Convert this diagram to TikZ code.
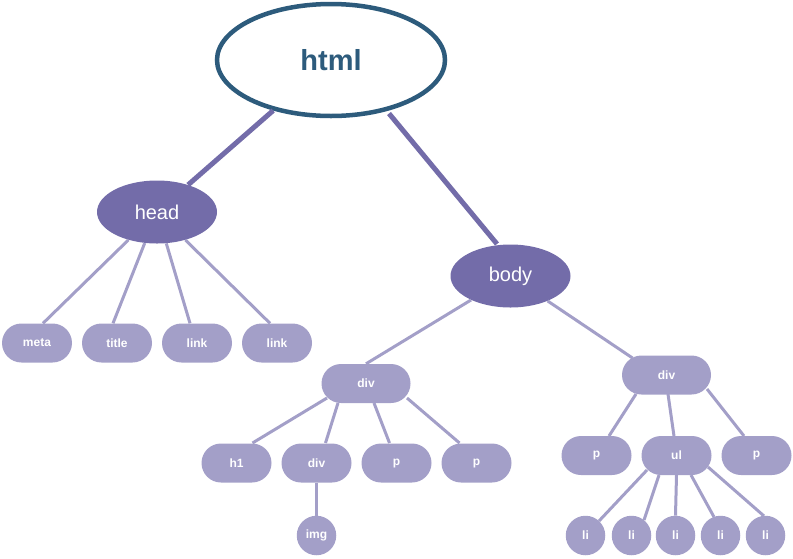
\documentclass[tikz,border=0pt]{standalone}
\usepackage{fontspec}
\setmainfont{Liberation Sans}
\usetikzlibrary{shapes.geometric,shapes.misc}
\definecolor{htmlblue}{HTML}{2D5B7C}
\definecolor{darkpurp}{HTML}{736CA9}
\definecolor{lightpurp}{HTML}{A39FC8}
\tikzset{
  rootnode/.style={ellipse,draw=htmlblue,line width=4.5pt,fill=white,inner sep=0pt,
    minimum width=228pt,minimum height=112pt,text=htmlblue,font=\fontsize{29}{32}\selectfont\bfseries},
  mainnode/.style={ellipse,fill=darkpurp,inner sep=0pt,minimum width=120pt,minimum height=63pt,
    text=white,font=\fontsize{20}{24}\selectfont},
  pill/.style={rounded rectangle,fill=lightpurp,inner sep=0pt,minimum width=70pt,minimum height=39pt,
    text=white,font=\fontsize{12}{14}\selectfont\bfseries},
  widepill/.style={pill,minimum width=89pt},
  dot/.style={circle,fill=lightpurp,inner sep=0pt,minimum size=39.5pt,
    text=white,font=\fontsize{12}{14}\selectfont\bfseries},
  thickedge/.style={draw=darkpurp,line width=5pt},
  thinedge/.style={draw=lightpurp,line width=3pt}
}
\begin{document}
\begin{tikzpicture}[x=1pt,y=-1pt]
\useasboundingbox (0,0) rectangle (793,558);
% nodes
\node[rootnode] (html) at (331,60) {html};
\node[mainnode] (head) at (157,212) {head};
\node[mainnode] (body) at (510.5,276) {body};
\node[pill] (meta) at (37,343) {meta};
\node[pill] (title) at (117,343) {title};
\node[pill] (link1) at (197,343) {link};
\node[pill] (link2) at (277,343) {link};
\node[widepill] (divM) at (366,383.5) {div};
\node[pill] (h1) at (236.5,463) {h1};
\node[pill] (div2) at (316.5,463) {div};
\node[pill] (p1) at (396.5,463) {p};
\node[pill] (p2) at (476.5,463) {p};
\node[dot] (img) at (316.5,535.5) {img};
\node[widepill] (divR) at (666.5,375) {div};
\node[pill] (pL) at (596.5,455.5) {p};
\node[pill] (ul) at (676.5,455.5) {ul};
\node[pill] (pR) at (756.5,455.5) {p};
\node[dot] (li1) at (585.5,535.5) {li};
\node[dot] (li2) at (631.5,535.5) {li};
\node[dot] (li3) at (675.5,535.5) {li};
\node[dot] (li4) at (720.5,535.5) {li};
\node[dot] (li5) at (765.5,535.5) {li};
% edges
\path[thickedge] (html) -- (head);
\path[thickedge] ([shift={(58,53.5)}]html.center) -- ([shift={(-13.5,-32)}]body.center);
\path[thinedge] (head) -- ([xshift=6pt]meta.north);
\path[thinedge] (head) -- ([xshift=-4pt]title.north);
\path[thinedge] (head) -- ([xshift=-7pt]link1.north);
\path[thinedge] (head) -- ([xshift=-7pt]link2.north);
\path[thinedge] (body) -- (divM.north);
\path[thinedge] (body) -- ([shift={(-34,-17)}]divR.center);
\path[thinedge] ([shift={(-39,14.5)}]divM.center) -- ([shift={(16,-20)}]h1.center);
\path[thinedge] ([shift={(-28,19.5)}]divM.center) -- ([shift={(9,-20)}]div2.center);
\path[thinedge] ([shift={(8,19.5)}]divM.center) -- ([shift={(-7,-20)}]p1.center);
\path[thinedge] ([shift={(41,14.5)}]divM.center) -- ([shift={(-17,-20)}]p2.center);
\path[thinedge] (div2.south) -- (img.north);
\path[thinedge] ([shift={(-30.5,19)}]divR.center) -- ([shift={(12.5,-19.5)}]pL.center);
\path[thinedge] ([shift={(1.5,19)}]divR.center) -- ([shift={(-2.5,-19.5)}]ul.center);
\path[thinedge] ([shift={(40.5,14)}]divR.center) -- ([shift={(-12.5,-19.5)}]pR.center);
\path[thinedge] ([shift={(-29.5,14.5)}]ul.center) -- ([shift={(13.5,-14.5)}]li1.center);
\path[thinedge] ([shift={(-17.5,19.5)}]ul.center) -- ([shift={(12.5,-15.5)}]li2.center);
\path[thinedge] (ul.south) -- (li3.north);
\path[thinedge] ([shift={(14.5,19.5)}]ul.center) -- ([shift={(-6.5,-18.5)}]li4.center);
\path[thinedge] ([shift={(31.5,11.5)}]ul.center) -- ([shift={(-1.5,-19.5)}]li5.center);
\end{tikzpicture}
\end{document}
